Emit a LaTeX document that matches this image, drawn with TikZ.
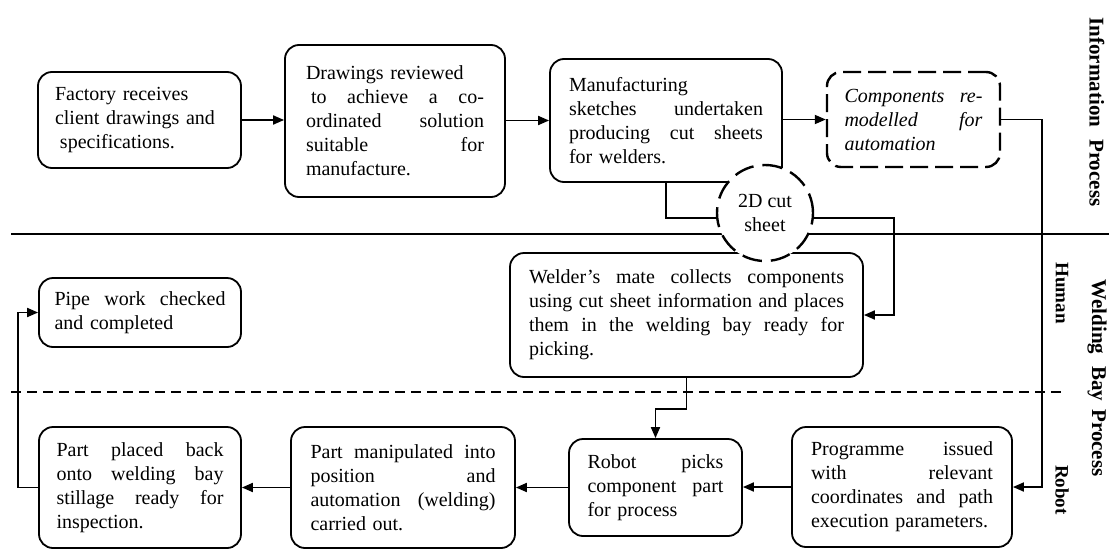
\documentclass[tikz,border=0pt]{standalone}
\usepackage{fontspec}
\setmainfont{Liberation Serif}
\usetikzlibrary{arrows.meta}
\newcommand{\fl}[1]{{\spaceskip=0pt\xspaceskip=0pt\makebox[\hsize][s]{#1}}}
\tikzset{
	stepbox/.style={draw, line width=1.8pt, rounded corners=14pt, fill=white, align=left, inner sep=0pt, font=\fontsize{20}{24}\selectfont},
	ghostbox/.style={stepbox, line width=2.4pt, dash pattern=on 18pt off 7pt, font=\fontsize{20}{24}\selectfont\itshape},
	sheetdisc/.style={draw, circle, fill=white, line width=2.4pt, dash pattern=on 20pt off 9pt, minimum size=96pt, inner sep=0pt, align=center, font=\fontsize{20}{24}\selectfont},
	flow/.style={line width=1.8pt, -{Triangle[length=11pt,width=9pt]}},
	link/.style={line width=1.8pt},
	lanetag/.style={rotate=-90, font=\fontsize{21}{24}\selectfont\bfseries},
}

\begin{document}
\begin{tikzpicture}[x=1pt, y=-1pt]
			%%%%% START %%%%%
			\useasboundingbox (0, 0) rectangle (1109, 549);
			
			\draw[line width=1.8pt] (11, 234) -- (1109, 234);
			\draw[line width=1.8pt, dash pattern=on 10pt off 6pt] (11, 392) -- (1062, 392);
			\coordinate (lane) at (1042, 0);
			
			\node[lanetag] (infotag) at (1097, 112) {Information\hspace{12pt}Process};
			\node[lanetag] (baytag) at (1097, 378) {Welding\hspace{12pt}Bay\hspace{8pt}Process};
			\node[lanetag, font=\fontsize{19}{22}\selectfont\bfseries] (humantag) at (1062, 293) {Human};
			\node[lanetag, font=\fontsize{19}{22}\selectfont\bfseries] (robottag) at (1062, 490) {Robot};
			
			\node[stepbox, minimum width=203pt, minimum height=96pt, text width=169pt] (fact) at (139.5, 120) {Factory receives\\ client drawings and\\ \hspace*{5pt}specifications.};
			\node[stepbox, minimum width=220pt, minimum height=152pt, text width=178pt] (review) at (395, 121) {Drawings reviewed\\ \fl{\hspace{5pt}to achieve a co-}\\ \fl{ordinated solution}\\ \fl{suitable for}\\ manufacture.};
			\node[stepbox, minimum width=232pt, minimum height=123pt, text width=194pt] (sketch) at (666, 120.5) {Manufacturing\\ \fl{sketches undertaken}\\ \fl{producing cut sheets}\\ for welders.};
			\node[ghostbox, minimum width=173pt, minimum height=95pt, text width=138pt] (remodel) at (913.5, 119.5) {\fl{Components re-}\\ \fl{modelled for}\\ automation};
			
			\node[stepbox, minimum width=353pt, minimum height=124pt, text width=315pt] (mate) at (686.5, 315) {\fl{Welder's mate collects components}\\ \fl{using cut sheet information and places}\\ \fl{them in the welding bay ready for}\\ picking.};
			\node[stepbox, minimum width=202pt, minimum height=69pt, text width=171pt] (pipe) at (140, 312.5) {\fl{Pipe work checked}\\ and completed};
			
			\node[stepbox, minimum width=220pt, minimum height=120pt, text width=182pt] (prog) at (902, 487) {\fl{Programme issued}\\ \fl{with relevant}\\ \fl{coordinates and path}\\ execution parameters.};
			\node[stepbox, minimum width=173pt, minimum height=97pt, text width=136pt] (pick) at (655.5, 487.5) {\fl{Robot picks}\\ \fl{component part}\\ for process};
			\node[stepbox, minimum width=224pt, minimum height=121pt, text width=185pt] (manip) at (403, 487.5) {\fl{Part manipulated into}\\ \fl{position and}\\ \fl{automation (welding)}\\ carried out.};
			\node[stepbox, minimum width=202pt, minimum height=121pt, text width=167pt] (placed) at (140, 487.5) {\fl{Part placed back}\\ \fl{onto welding bay}\\ \fl{stillage ready for}\\ inspection.};
			
			\node[sheetdisc] (cut) at (765, 213) {2D cut\\ sheet};
			
			\draw[flow] (fact.east) -- (fact.east -| review.west);
			\draw[flow] (review.east |- sketch.west) -- (sketch.west);
			\draw[flow] (sketch.east |- remodel.west) -- (remodel.west);
			\draw[flow] (remodel.east) -- (remodel.east -| lane) |- (prog.east);
			\draw[link] (sketch.south) |- (cut.186);
			\draw[flow] (cut.-6) -- ++(80, 0) |- (mate.east);
			\draw[flow] (mate.south) -- ++(0, 31) -| (pick.north);
			\draw[flow] (prog.west) -- (prog.west -| pick.east);
			\draw[flow] (pick.west) -- (pick.west -| manip.east);
			\draw[flow] (manip.west) -- (manip.west -| placed.east);
			\draw[flow] (placed.west) -- ++(-20, 0) |- (pipe.west);
			
			%%%%% END %%%%%
\end{tikzpicture}
\end{document}
